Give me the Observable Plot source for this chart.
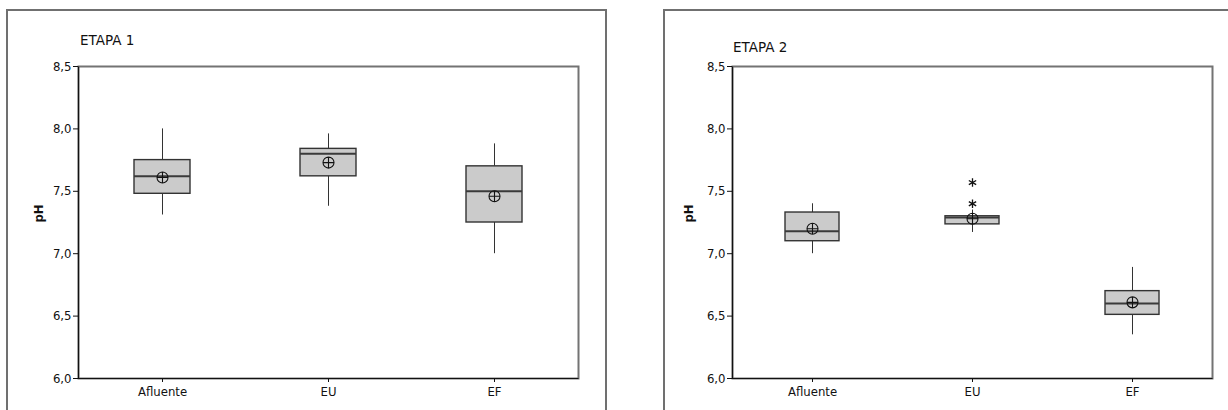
<!DOCTYPE html>
<html>
<head>
<meta charset="utf-8">
<script src="https://cdn.jsdelivr.net/npm/d3@7"></script>
<script src="https://cdn.jsdelivr.net/npm/@observablehq/plot@0.6"></script>
<style>
  html, body { margin: 0; padding: 0; background: #fff; }
  #page { position: relative; width: 1228px; height: 410px; overflow: hidden; background: #fff;
          font-family: "DejaVu Sans Condensed", "DejaVu Sans", sans-serif; }
  .panel { position: absolute; box-sizing: border-box; border: 2px solid #707070; border-bottom: none; height: 440px; }
  .title { position: absolute; font-family: "DejaVu Sans", sans-serif; font-size: 13.5px; line-height: 1; color: #111; white-space: nowrap; }
  .chart { position: absolute; top: 0; }
</style>
</head>
<body>
<div id="page">
  <div class="panel" style="left:6px; top:9px; width:601px;"></div>
  <div class="panel" style="left:663px; top:9px; width:600px;"></div>
  <div class="title" style="left:80px; top:34px;">ETAPA 1</div>
  <div class="title" style="left:733px; top:41px;">ETAPA 2</div>
  <div class="chart" id="etapa1" style="left:0px;"></div>
  <div class="chart" id="etapa2" style="left:614px;"></div>
</div>
<script>
// Sampling points along the treatment line
const categories = ["Afluente", "EU", "EF"];

// ETAPA 1 — pH box-plot summary per point
const etapa1Min    = [7.31, 7.38, 7.00];
const etapa1Q1     = [7.48, 7.62, 7.25];
const etapa1Median = [7.62, 7.80, 7.50];
const etapa1Q3     = [7.75, 7.84, 7.70];
const etapa1Max    = [8.00, 7.96, 7.88];
const etapa1Mean   = [7.61, 7.73, 7.46];
const etapa1OutlierCategory = [];
const etapa1OutlierValue    = [];

// ETAPA 2 — pH box-plot summary per point
const etapa2Min    = [7.00, 7.17, 6.35];
const etapa2Q1     = [7.10, 7.235, 6.51];
const etapa2Median = [7.18, 7.29, 6.60];
const etapa2Q3     = [7.33, 7.30, 6.70];
const etapa2Max    = [7.40, 7.35, 6.89];
const etapa2Mean   = [7.20, 7.28, 6.61];
const etapa2OutlierCategory = ["EU", "EU"];
const etapa2OutlierValue    = [7.57, 7.40];

// y axis ticks
const yTicks = [6.0, 6.5, 7.0, 7.5, 8.0, 8.5];

// Mean marker: circle with a cross inside
const circlePlus = {
  draw(context, size) {
    const r = Math.sqrt(size / Math.PI);
    context.moveTo(r, 0);
    context.arc(0, 0, r, 0, 2 * Math.PI);
    context.moveTo(-r, 0);
    context.lineTo(r, 0);
    context.moveTo(0, -r);
    context.lineTo(0, r);
  }
};

const fmt = d => d.toFixed(1).replace(".", ",");
const fontFamily = '"DejaVu Sans Condensed", "DejaVu Sans", sans-serif';

function boxChart(stats, layout) {
  const width = 614, height = 410, marginTop = 66, marginBottom = 32;
  const innerW = width - layout.marginLeft - layout.marginRight;
  const innerH = height - marginTop - marginBottom;
  const rows = categories.map((cat, i) => ({
    cat, min: stats.min[i], q1: stats.q1[i], median: stats.median[i],
    q3: stats.q3[i], max: stats.max[i], mean: stats.mean[i]
  }));
  const outliers = stats.outCat.map((cat, i) => ({ cat, v: stats.outVal[i] }));
  return Plot.plot({
    width, height,
    marginLeft: layout.marginLeft,
    marginRight: layout.marginRight,
    marginTop, marginBottom,
    style: { fontFamily, fontSize: "13px", color: "#111", background: "transparent" },
    x: { type: "band", domain: categories, paddingInner: 0.66, paddingOuter: 0.33 },
    y: { domain: [6, 8.5] },
    marks: [
      // grey top/right frame, black left/bottom axis lines
      Plot.frame({ stroke: "#737373", strokeWidth: 2 }),
      Plot.frame({ stroke: "#111", strokeWidth: 1.2, strokeDasharray: `0,${innerW + innerH},${innerW + innerH}` }),
      Plot.axisY({ ticks: yTicks, tickFormat: fmt, label: null, tickSize: 5, tickPadding: 2, fontSize: 13, stroke: "#111", fill: "#111" }),
      Plot.axisX({ label: null, tickSize: 4, tickPadding: 4, fontSize: 13, stroke: "#111", fill: "#111" }),
      Plot.ruleX(rows, { x: "cat", y1: "min", y2: "q1", stroke: "#333", strokeWidth: 1 }),
      Plot.ruleX(rows, { x: "cat", y1: "q3", y2: "max", stroke: "#333", strokeWidth: 1 }),
      Plot.barY(rows, { x: "cat", y1: "q1", y2: "q3", fill: "#cbcbcb", stroke: "#333", strokeWidth: 1.4 }),
      Plot.tickY(rows, { x: "cat", y: "median", stroke: "#3a3a3a", strokeWidth: 2 }),
      Plot.dot(rows, { x: "cat", y: "mean", symbol: circlePlus, r: 5.5, stroke: "#111", fill: "none", strokeWidth: 1.1 }),
      Plot.dot(outliers, { x: "cat", y: "v", symbol: "asterisk", r: 4, stroke: "#111", strokeWidth: 1.3 }),
      Plot.text(["pH"], { frameAnchor: "left", dx: -layout.labelOffset, rotate: -90, fontWeight: "bold", fontSize: 13, fill: "#111" })
    ]
  });
}

document.getElementById("etapa1").append(boxChart({
  min: etapa1Min, q1: etapa1Q1, median: etapa1Median, q3: etapa1Q3, max: etapa1Max, mean: etapa1Mean,
  outCat: etapa1OutlierCategory, outVal: etapa1OutlierValue
}, { marginLeft: 78, marginRight: 36, labelOffset: 40 }));

document.getElementById("etapa2").append(boxChart({
  min: etapa2Min, q1: etapa2Q1, median: etapa2Median, q3: etapa2Q3, max: etapa2Max, mean: etapa2Mean,
  outCat: etapa2OutlierCategory, outVal: etapa2OutlierValue
}, { marginLeft: 118, marginRight: 16, labelOffset: 44 }));
</script>
</body>
</html>
